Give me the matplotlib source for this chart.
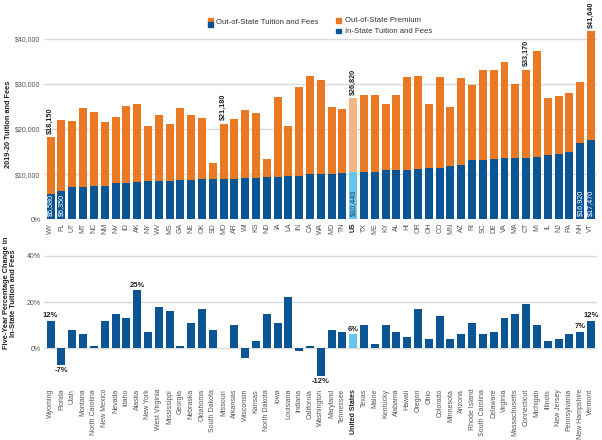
import numpy as np
import matplotlib
matplotlib.use('Agg')
import matplotlib.pyplot as plt
from matplotlib.patches import Rectangle

plt.rcParams['font.family'] = ['Liberation Sans', 'DejaVu Sans']

abbr = ['WY', 'FL', 'UT', 'MT', 'NC', 'NM', 'NV', 'ID', 'AK', 'NY', 'WV', 'MS', 'GA',
        'NE', 'OK', 'SD', 'MO', 'AR', 'WI', 'KS', 'ND', 'IA', 'LA', 'IN', 'CA', 'WA',
        'MD', 'TN', 'US', 'TX', 'ME', 'KY', 'AL', 'HI', 'OR', 'OH', 'CO', 'MN', 'AZ',
        'RI', 'SC', 'DE', 'VA', 'MA', 'CT', 'MI', 'IL', 'NJ', 'PA', 'NH', 'VT']
names = ['Wyoming', 'Florida', 'Utah', 'Montana', 'North Carolina', 'New Mexico', 'Nevada',
         'Idaho', 'Alaska', 'New York', 'West Virginia', 'Mississippi', 'Georgia', 'Nebraska',
         'Oklahoma', 'South Dakota', 'Missouri', 'Arkansas', 'Wisconsin', 'Kansas',
         'North Dakota', 'Iowa', 'Louisiana', 'Indiana', 'California', 'Washington',
         'Maryland', 'Tennessee', 'United States', 'Texas', 'Maine', 'Kentucky', 'Alabama',
         'Hawaii', 'Oregon', 'Ohio', 'Colorado', 'Minnesota', 'Arizona', 'Rhode Island',
         'South Carolina', 'Delaware', 'Virginia', 'Massachusetts', 'Connecticut', 'Michigan',
         'Illinois', 'New Jersey', 'Pennsylvania', 'New Hampshire', 'Vermont']

# in-state tuition and fees
in_state = [5580, 6350, 7100, 7150, 7300, 7450, 7970, 8040, 8270, 8490, 8500, 8560, 8700,
            8700, 8930, 8930, 9000, 9000, 9150, 9150, 9300, 9370, 9600, 9600, 10040, 10110,
            10110, 10260, 10440, 10480, 10480, 10920, 10920, 11000, 11220, 11370, 11370,
            11880, 11960, 13060, 13140, 13280, 13650, 13650, 13650, 13800, 14240, 14540,
            14980, 16920, 17470]
# out-of-state tuition and fees (total)
out_state = [18150, 22000, 21770, 24720, 23760, 21550, 22730, 25090, 25460, 20590, 23030,
             21030, 24650, 23170, 22440, 12470, 21180, 22140, 24280, 23470, 13280, 27090,
             20740, 29370, 31700, 30770, 24940, 24350, 26820, 27600, 27600, 25540, 27450,
             31590, 31810, 25540, 31590, 24800, 31290, 29670, 32990, 32990, 34760, 29960,
             33170, 37270, 26940, 27310, 28040, 30410, 41640]
# five-year % change in in-state tuition
pct = [12, -7, 8, 6, 1, 12, 15, 13, 25, 7, 18, 16, 1, 11, 17, 8, 0, 10, -4, 3, 15, 11, 22,
       -1, 1, -12, 8, 7, 6, 10, 2, 10, 7, 5, 17, 4, 14, 4, 6, 11, 6, 7, 13, 15, 19, 10, 3,
       4, 6, 7, 12]

total_labels = ['WY', 'MO', 'US', 'CT', 'VT']
in_labels = ['WY', 'FL', 'US', 'NH', 'VT']
pct_labels = ['WY', 'FL', 'AK', 'WA', 'US', 'NH', 'VT']

ORANGE = '#EA7923'
BLUE = '#0B5595'
LORANGE = '#F6B585'
LBLUE = '#66C6EE'
GRID = '#DADADA'
TICK = '#555555'
DARK = '#222222'
FS = 5.0

x = np.arange(len(abbr))
us = abbr.index('US')
premium = np.array(out_state) - np.array(in_state)
blue_c = [LBLUE if a == 'US' else BLUE for a in abbr]
orange_c = [LORANGE if a == 'US' else ORANGE for a in abbr]

fig = plt.figure(figsize=(6.02, 4.40), dpi=100)
ax1 = fig.add_axes([0.0734, 0.5016, 0.919, 0.4309])
ax2 = fig.add_axes([0.0734, 0.140, 0.919, 0.2893])

# top chart
ax1.bar(x, in_state, width=0.74, color=blue_c, zorder=3)
ax1.bar(x, premium, bottom=in_state, width=0.74, color=orange_c, zorder=3)
ax1.set_xlim(-0.6, len(abbr) - 0.4)
ax1.set_ylim(0, 42000)
ax1.set_yticks([0, 10000, 20000, 30000, 40000])
ax1.set_yticklabels(['0%', '$10,000', '$20,000', '$30,000', '$40,000'])
ax1.set_xticks(x)
ax1.set_xticklabels(abbr, rotation=90, fontsize=FS, color=TICK)
ax1.get_xticklabels()[us].set_fontweight('bold')
ax1.get_xticklabels()[us].set_color(DARK)
ax1.grid(axis='y', color=GRID, lw=1, zorder=0)
ax1.tick_params(axis='both', length=0, pad=2.5)
ax1.tick_params(axis='y', labelsize=FS, labelcolor=TICK)
for s in ax1.spines.values():
    s.set_visible(False)
fig.text(9 / 602, 1 - 124 / 440, '2019-20 Tuition and Fees', rotation=90, ha='center',
         va='center', fontsize=5.3, fontweight='bold', color=DARK)

for a in total_labels:
    i = abbr.index(a)
    ax1.text(i, out_state[i] + 800, '${:,}'.format(out_state[i]), rotation=90,
             ha='center', va='bottom', fontsize=5.2, fontweight='bold', color=DARK)
for a in in_labels:
    i = abbr.index(a)
    ax1.text(i, 700, '${:,}'.format(in_state[i]), rotation=90, ha='center', va='bottom',
             fontsize=5.2, color='#1A3A5C' if a == 'US' else 'white')

# bottom chart
ax2.bar(x, pct, width=0.74, color=blue_c, zorder=3)
ax2.set_xlim(-0.6, len(abbr) - 0.4)
ax2.set_ylim(-13, 42)
ax2.set_yticks([0, 20, 40])
ax2.set_yticklabels(['0%', '20%', '40%'])
ax2.set_xticks(x)
ax2.set_xticklabels(names, rotation=90, fontsize=FS, color=TICK)
ax2.get_xticklabels()[us].set_fontweight('bold')
ax2.get_xticklabels()[us].set_color(DARK)
ax2.grid(axis='y', color=GRID, lw=1, zorder=0)
ax2.tick_params(axis='both', length=0)
ax2.tick_params(axis='x', pad=7.5)
ax2.tick_params(axis='y', labelsize=FS, labelcolor=TICK, pad=2.5)
for s in ax2.spines.values():
    s.set_visible(False)
fig.text(10 / 602, 1 - 293 / 440, 'Five-Year Percentage Change in\nIn-State Tuition and Fees',
         rotation=90, ha='center', va='center', ma='center', fontsize=5.3,
         fontweight='bold', color=DARK, linespacing=1.1)
for a in pct_labels:
    i = abbr.index(a)
    v = pct[i]
    if v >= 0:
        ax2.text(i, v + 0.7, '{}%'.format(v), ha='center', va='bottom', fontsize=5.5,
                 fontweight='bold', color=DARK)
    else:
        ax2.text(i, v - 0.9, '{}%'.format(v), ha='center', va='top', fontsize=5.5,
                 fontweight='bold', color=DARK)

# legend
def swatch(px, py, color):
    fig.patches.append(Rectangle((px / 602, 1 - py / 440), 4.5 / 602, 4.5 / 440,
                                 transform=fig.transFigure, color=color))

swatch(208, 22.3, ORANGE)
swatch(208, 26.8, BLUE)
fig.text(216 / 602, 1 - 22.5 / 440, 'Out-of-State Tuition and Fees', fontsize=5.6,
         va='center', color='#333333')
swatch(336, 23, ORANGE)
fig.text(345 / 602, 1 - 20.5 / 440, 'Out-of-State Premium', fontsize=5.6, va='center',
         color='#333333')
swatch(336, 33.5, BLUE)
fig.text(345 / 602, 1 - 31.2 / 440, 'In-State Tuition and Fees', fontsize=5.6, va='center',
         color='#333333')

fig.savefig('out.png', dpi=100)
